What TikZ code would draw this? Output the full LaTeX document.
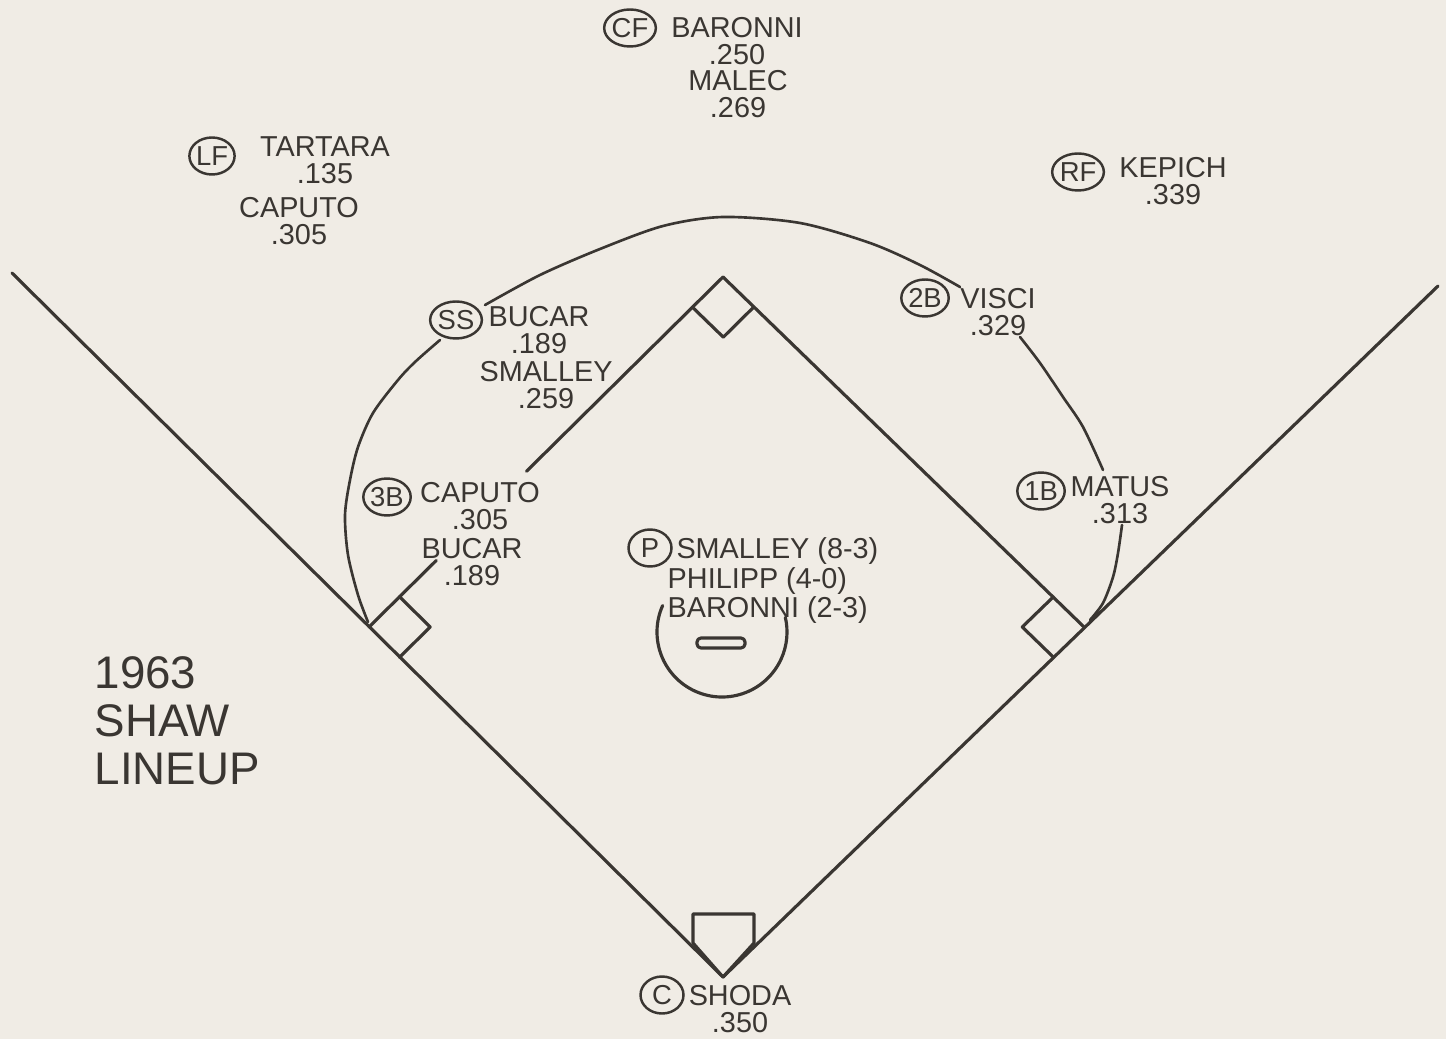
\documentclass[tikz,border=0pt]{standalone}
\usepackage{fontspec}
\setmainfont{Liberation Sans}
\usetikzlibrary{calc,shapes.geometric}

\definecolor{paper}{RGB}{240,236,229}
\definecolor{ink}{RGB}{58,54,50}

\tikzset{
  posmark/.style={draw=ink, ellipse, line width=0.7pt, minimum width=4.3mm,
    minimum height=3.7mm, inner sep=0pt, text=ink, font=\fontsize{7.8}{7.8}\selectfont},
  player/.style={anchor=north, align=center, inner sep=0pt, text=ink,
    font=\fontsize{8.2}{7.7}\selectfont},
  chalk/.style={draw=ink, line width=0.9pt, line cap=round, line join=round},
  grass/.style={draw=ink, line width=0.75pt, line cap=round},
}

\begin{document}
\begin{tikzpicture}[x=0.1mm,y=-0.1mm]

    % Paper
    \fill[paper] (0,0) rectangle (1446,1039);
    \useasboundingbox (0,0) rectangle (1446,1039);

    % Diamond corners
    \coordinate (home) at (723,977);
    \coordinate (first) at (1084,627);
    \coordinate (second) at (723,277);
    \coordinate (third) at (369,627);
    \coordinate (lfoul) at (12,273);
    \coordinate (rfoul) at (1438,286);
    \coordinate (mound) at (722,632);

    % Foul lines
    \draw[chalk] (lfoul) -- (home) -- (rfoul);

    % Base paths
    \draw[chalk] (second) -- (first);
    \draw[chalk] (third) -- ($(third)!0.19!(second)$);
    \draw[chalk] ($(third)!0.445!(second)$) -- (second);

    % Bases
    \foreach \b/\p/\q in {first/second/home, second/third/first, third/home/second} {
      \path ($(\b)!4.3mm!(\p)$) coordinate (bp) ($(\b)!4.3mm!(\q)$) coordinate (bq);
      \draw[chalk] (bp) -- ($(bp)+(bq)-(\b)$) -- (bq);
    }

    % Home plate
    \draw[chalk] (home) -- (693,943) -- (693,914) -- (754,914) -- (754,943) -- cycle;

    % Pitcher's mound
    \draw[chalk] (mound) ++(156:6.5mm) arc[start angle=156, end angle=373, radius=6.5mm];
    \draw[chalk, rounded corners=0.4mm] (697,638) rectangle (745,648);

    % Edge of the grass
    \draw[grass] plot[smooth] coordinates {(368,622) (358,595) (348,555) (345,515)
      (350,480) (358,447) (373,413) (398,380) (415,362) (440,340)};
    \draw[grass] plot[smooth] coordinates {(485,305) (540,275) (600,249) (663,226)
      (723,217) (800,223) (870,243) (920,265) (960,287)};
    \draw[grass] plot[smooth] coordinates {(1020,337) (1040,363) (1063,397)
      (1083,427) (1103,470)};
    \draw[grass] plot[smooth] coordinates {(1122,525) (1118,553) (1113,577)
      (1103,603) (1090,620)};

    % Center field
    \node[posmark] (cf) at (630,28) {CF};
    \node[player] (baronni) at (737,17) {BARONNI\\.250};
    \node[player] (malec) at (738,70) {MALEC\\.269};

    % Left field
    \node[posmark] (lf) at (212,156) {LF};
    \node[player] (tartara) at (325,136) {TARTARA\\.135};
    \node[player] (caputolf) at (299,197) {CAPUTO\\.305};

    % Right field
    \node[posmark] (rf) at (1078,172) {RF};
    \node[player] (kepich) at (1173,157) {KEPICH\\.339};

    % Shortstop
    \node[posmark] (ss) at (456,320) {SS};
    \node[player] (bucarss) at (539,306) {BUCAR\\.189};
    \node[player] (smalleyss) at (546,361) {SMALLEY\\.259};

    % Second base
    \node[posmark] (secb) at (925,298) {2B};
    \node[player] (visci) at (998,288) {VISCI\\.329};

    % Third base
    \node[posmark] (thirdb) at (387,497) {3B};
    \node[player] (caputo) at (480,482) {CAPUTO\\.305};
    \node[player] (bucar) at (472,538) {BUCAR\\.189};

    % First base
    \node[posmark] (firstb) at (1041,491) {1B};
    \node[player] (matus) at (1120,476) {MATUS\\.313};

    % Pitchers
    \node[posmark] (pit) at (650,548) {P};
    \node[player, anchor=north west, align=left, font=\fontsize{8.2}{8.4}\selectfont]
      (pitchers) at (667,537) {\hspace{2.5pt}SMALLEY (8-3)\\PHILIPP (4-0)\\BARONNI (2-3)};

    % Catcher
    \node[posmark] (cat) at (662,995) {C};
    \node[player] (shoda) at (740,985) {SHODA\\.350};

    % Title
    \node[anchor=north west, align=left, inner sep=0pt, text=ink,
      font=\fontsize{13}{13.7}\selectfont] (title) at (94,656) {1963\\SHAW\\LINEUP};
\end{tikzpicture}
\end{document}
